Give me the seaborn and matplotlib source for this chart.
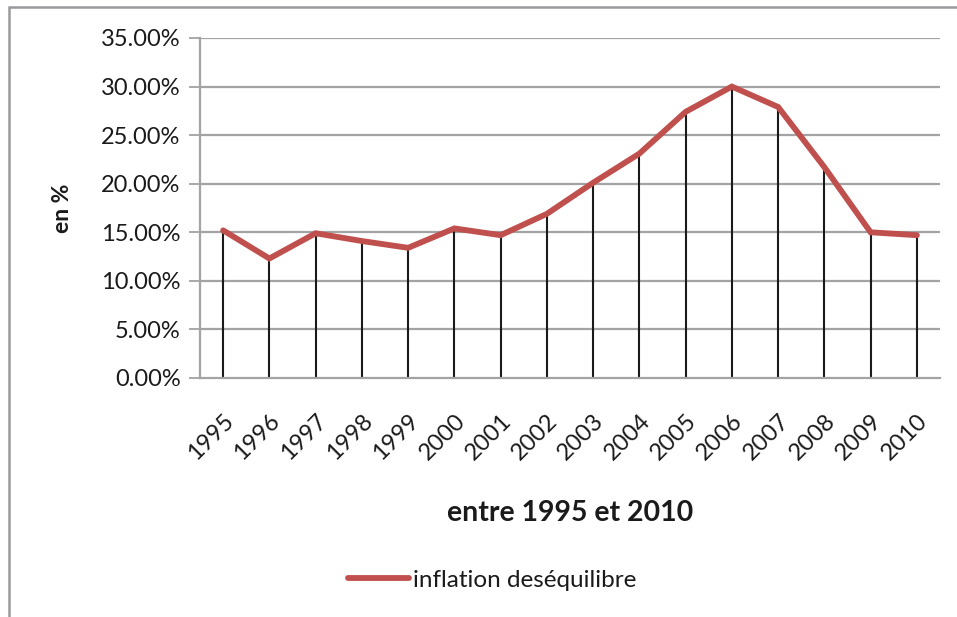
import matplotlib
matplotlib.use("Agg")
import matplotlib.pyplot as plt
import matplotlib.patches as mpatches
import seaborn as sns
import pandas as pd

years = ["1995", "1996", "1997", "1998", "1999", "2000", "2001", "2002",
         "2003", "2004", "2005", "2006", "2007", "2008", "2009", "2010"]
inflation = [15.2, 12.3, 14.9, 14.1, 13.4, 15.4, 14.7, 16.9,
             20.1, 23.1, 27.4, 30.0, 27.9, 21.7, 15.0, 14.7]
series_name = "inflation deséquilibre"
y_ticks = [0, 5, 10, 15, 20, 25, 30, 35]

sns.set_theme(style="white")
plt.rcParams["font.family"] = ["Lato", "DejaVu Sans"]

W, H = 957, 617
fig = plt.figure(figsize=(W / 100, H / 100), dpi=100)
ax = fig.add_axes([200 / W, 1 - 378 / H, 740 / W, 340 / H])

df = pd.DataFrame({"year": years, "value": inflation})
pos = list(range(len(years)))

grid_c = "#A3A3A6"
text_c = "#1A1A1A"
for t in y_ticks[1:]:
    ax.axhline(t, color=grid_c, lw=1.6, zorder=0)

ax.vlines(pos, 0, inflation, colors="#1A1A1A", lw=1.5, zorder=2)

sns.lineplot(data=df, x="year", y="value", ax=ax, color="#C0504D",
             lw=4.2, label=series_name, zorder=3, sort=False,
             solid_capstyle="round", solid_joinstyle="miter")

ax.set_xlim(-0.5, len(years) - 0.5)
ax.set_ylim(0, 35)
ax.set_yticks(y_ticks)
ax.set_yticklabels([f"{t:.2f}%" for t in y_ticks])
ax.set_xticks(pos)
ax.set_xticklabels(years, rotation=45, ha="right", va="top",
                   rotation_mode="anchor")

for side in ["top", "right"]:
    ax.spines[side].set_visible(False)
for side in ["left", "bottom"]:
    ax.spines[side].set_color(grid_c)
    ax.spines[side].set_linewidth(1.6)

ax.tick_params(axis="y", which="both", left=True, length=8, width=1.3,
               color=grid_c, labelsize=17, labelcolor=text_c, pad=6)
ax.tick_params(axis="x", which="both", bottom=False, labelsize=17,
               labelcolor=text_c, pad=17)

ax.set_xlabel("entre 1995 et 2010", fontsize=20.5, fontweight="bold",
              color=text_c, labelpad=26)
ax.set_ylabel("en %", fontsize=16.5, fontweight="bold", color=text_c,
              labelpad=20)

leg = ax.legend(loc="center", bbox_to_anchor=(492 / W, 1 - 580 / H),
                bbox_transform=fig.transFigure, frameon=False, fontsize=17.5,
                handlelength=2.5, handletextpad=0.15)
for t in leg.get_texts():
    t.set_color(text_c)

# outer chart frame
frame = mpatches.Rectangle((9 / W, -0.1), 1.2, 1.1 - 7 / H,
                           transform=fig.transFigure, fill=False,
                           edgecolor="#9A9A9E", lw=1.8, zorder=0)
fig.patches.append(frame)

fig.savefig("out.png", dpi=100)
